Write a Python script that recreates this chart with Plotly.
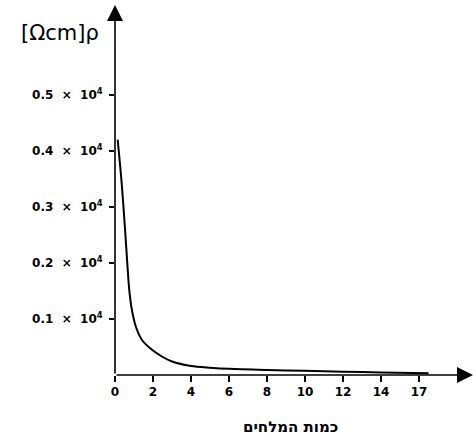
import plotly.graph_objects as go

# Data
salt_amount = [0.14, 0.35, 0.53, 0.67, 0.75, 0.89, 1.1, 1.42, 1.95, 2.47, 3.0, 4.0, 5.0, 6, 8, 10, 12, 14, 16.5]
resistivity = [0.42, 0.343, 0.259, 0.1875, 0.152, 0.116, 0.086, 0.0625, 0.045, 0.033, 0.024, 0.016,
               0.013, 0.011, 0.009, 0.0075, 0.006, 0.0045, 0.003]

x_tick_vals = [0, 2, 4, 6, 8, 10, 12, 14, 16]
x_tick_text = ["<b>0</b>", "<b>2</b>", "<b>4</b>", "<b>6</b>", "<b>8</b>", "<b>10</b>",
               "<b>12</b>", "<b>14</b>", "<b>17</b>"]
y_tick_vals = [0.1, 0.2, 0.3, 0.4, 0.5]
y_tick_text = ["<b>0.1  ×  10<sup>4</sup></b>", "<b>0.2  ×  10<sup>4</sup></b>",
               "<b>0.3  ×  10<sup>4</sup></b>", "<b>0.4  ×  10<sup>4</sup></b>",
               "<b>0.5  ×  10<sup>4</sup></b>"]

X_MAX = 18.84
Y_MAX = 0.66

fig = go.Figure()
fig.add_trace(go.Scatter(x=salt_amount, y=resistivity, mode="lines",
                         line=dict(color="black", width=2, shape="spline", smoothing=0.8),
                         hoverinfo="skip", showlegend=False))

# axes with arrowheads
fig.add_annotation(x=X_MAX, y=0, ax=0, ay=0, xref="x", yref="y", axref="x", ayref="y",
                   showarrow=True, arrowhead=2, arrowsize=2.0, arrowwidth=1.6, arrowcolor="black", text="")
fig.add_annotation(x=0, y=Y_MAX, ax=0, ay=0, xref="x", yref="y", axref="x", ayref="y",
                   showarrow=True, arrowhead=2, arrowsize=2.0, arrowwidth=1.6, arrowcolor="black", text="")

fig.add_annotation(text="[Ωcm]ρ", xref="paper", yref="paper", x=-0.04, y=0.925,
                   xanchor="right", yanchor="middle", showarrow=False,
                   font=dict(family="DejaVu Sans", size=21, color="black"))
fig.add_annotation(text="<b>כמות המלחים</b>", xref="paper", yref="paper", x=0.49, y=-0.14,
                   xanchor="center", yanchor="middle", showarrow=False,
                   font=dict(family="DejaVu Sans", size=15, color="black"))

fig.update_xaxes(range=[0, X_MAX], tickvals=x_tick_vals, ticktext=x_tick_text,
                 ticks="outside", ticklen=6, tickwidth=1.5, tickcolor="black",
                 showgrid=False, zeroline=False, showline=False,
                 tickfont=dict(family="DejaVu Sans", size=12, color="black"))
fig.update_yaxes(range=[0, Y_MAX], tickvals=y_tick_vals, ticktext=y_tick_text,
                 ticks="outside", ticklen=5, tickwidth=1.5, tickcolor="black",
                 ticklabelstandoff=4,
                 showgrid=False, zeroline=False, showline=False,
                 tickfont=dict(family="DejaVu Sans", size=12, color="black"))

fig.update_layout(width=476, height=439, margin=dict(l=115, r=3, t=5, b=64),
                  plot_bgcolor="white", paper_bgcolor="white")

fig.write_html("out.html")
